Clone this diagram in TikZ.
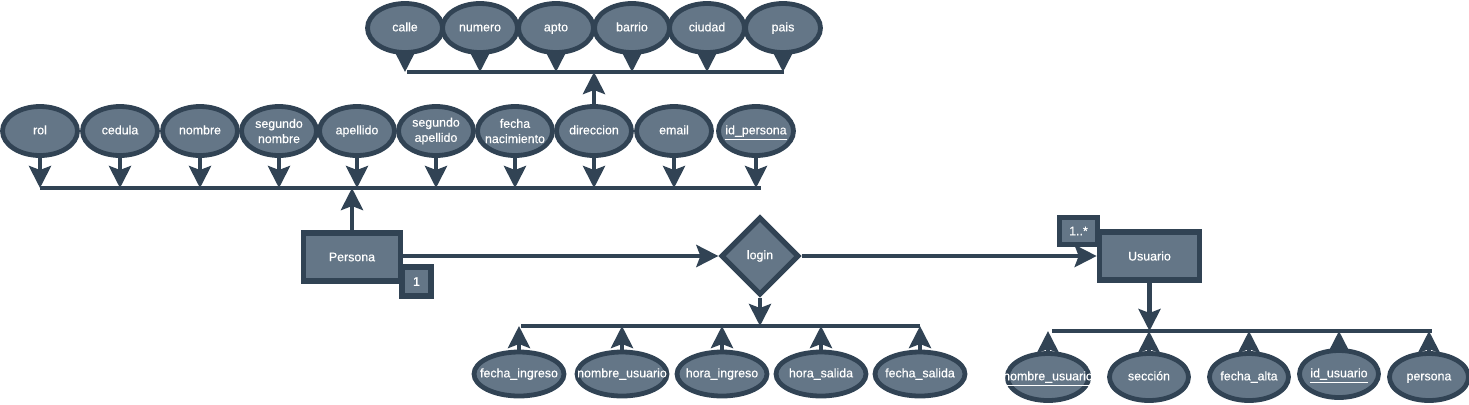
\documentclass[tikz,border=0pt]{standalone}
\usepackage{fontspec}
\setmainfont{Liberation Sans}[FakeBold=0.4]
\usetikzlibrary{arrows.meta,shapes.geometric}
\definecolor{erfill}{HTML}{647687}
\definecolor{erline}{HTML}{314354}

\begin{document}
\begin{tikzpicture}[x=0.5pt, y=-0.5pt, font=\fontsize{6.2}{7.6}\selectfont,
  attr/.style={ellipse, draw=erline, line width=2.4pt, fill=erfill, text=white, inner ysep=0pt, inner xsep=-8pt, align=center, minimum width=37.5pt, minimum height=24.5pt, text height=4.6pt, text depth=1.3pt},
  twoline/.style={text height={}, text depth={}},
  attrl/.style={attr, minimum width=45pt, minimum height=22pt},
  attru/.style={attr, minimum width=39.5pt, minimum height=23.5pt},
  entity/.style={rectangle, draw=erline, line width=2.8pt, fill=erfill, text=white, minimum width=48.5pt, minimum height=24pt},
  rel/.style={diamond, draw=erline, line width=2.6pt, fill=erfill, text=white, inner sep=0pt, minimum width=39pt, minimum height=39pt},
  card/.style={rectangle, draw=erline, line width=2.6pt, fill=erfill, text=white, inner sep=0pt, minimum size=14.5pt},
  link/.style={draw=erline, line width=2.2pt, -{Stealth[length=11pt,width=11pt,inset=2pt]}},
  bus/.style={draw=erline, line width=2.2pt}]
	\useasboundingbox (0,0) rectangle (1469,404);
	% direccion
	\node[attr] (calle) at (405,28) {calle};
	\node[attr] (numero) at (480,28) {numero};
	\node[attr] (apto) at (556,28) {apto};
	\node[attr] (barrio) at (632,28) {barrio};
	\node[attr] (ciudad) at (707,28) {ciudad};
	\node[attr] (pais) at (783,28) {pais};
	\coordinate (dirL) at (407,72);
	\coordinate (dirR) at (784,72);
	\draw[bus] (dirL) -- (dirR);
	\foreach \n in {calle,numero,apto,barrio,ciudad,pais}
	  \draw[link] (\n.south) -- (\n.south |- dirL);
	% persona
	\node[attr] (rol) at (40,131) {rol};
	\node[attr] (cedula) at (120,131) {cedula};
	\node[attr] (nombre) at (200,131) {nombre};
	\node[attr, twoline] (snombre) at (279,131) {segundo\\nombre};
	\node[attr] (apellido) at (357,131) {apellido};
	\node[attr, twoline] (sapellido) at (436,131) {segundo\\apellido};
	\node[attr, twoline] (fnac) at (515,131) {fecha\\nacimiento};
	\node[attr] (direccion) at (594,131) {direccion};
	\node[attr] (email) at (674,131) {email};
	\node[attr] (idpersona) at (756,131) {\underline{id\_persona}};
	\coordinate (perL) at (40,188);
	\coordinate (perR) at (761,188);
	\draw[bus] (perL) -- (perR);
	\foreach \n in {rol,cedula,nombre,snombre,apellido,sapellido,fnac,direccion,email,idpersona}
	  \draw[link] (\n.south) -- (\n.south |- perL);
	\draw[link] (direccion.north) -- (direccion.north |- dirL);
	\node[entity] (persona) at (352,257) {Persona};
	\node[card] (cpersona) at (416.5,281.5) {1};
	\draw[link] (persona.north) -- (persona.north |- perL);
	% login
	\node[rel] (login) at (760,256) {login};
	\node[entity, minimum width=50pt] (usuario) at (1149.5,256) {Usuario};
	\node[card, minimum width=19pt, minimum height=13.5pt] (cusuario) at (1078.5,231) {1..*};
	\draw[link] (persona.east |- login) -- (login.west);
	\draw[link] (login.east) -- (usuario.west);
	\node[attrl] (fingreso) at (519,374) {fecha\_ingreso};
	\node[attrl] (nusuario) at (622,374) {nombre\_usuario};
	\node[attrl] (hingreso) at (722,374) {hora\_ingreso};
	\node[attrl] (hsalida) at (821,374) {hora\_salida};
	\node[attrl] (fsalida) at (920,374) {fecha\_salida};
	\coordinate (logL) at (521,326);
	\coordinate (logR) at (920,326);
	\draw[bus] (logL) -- (logR);
	\draw[link] (login.south) -- (login.south |- logL);
	\foreach \n in {fingreso,nusuario,hingreso,hsalida,fsalida}
	  \draw[link] (\n.north) -- (\n.north |- logL);
	% usuario
	\node[attru] (unombre) at (1048,377) {\underline{nombre\_usuario}};
	\node[attru] (seccion) at (1149,377) {sección};
	\node[attru] (falta) at (1249,377) {fecha\_alta};
	\node[attru] (idusuario) at (1339,374) {\underline{id\_usuario}};
	\node[attru] (upersona) at (1429,377) {persona};
	\coordinate (usuL) at (1052,331);
	\coordinate (usuR) at (1432,331);
	\draw[bus] (usuL) -- (usuR);
	\draw[link] (usuario.south) -- (usuario.south |- usuL);
	\foreach \n in {unombre,seccion,falta,idusuario,upersona}
	  \draw[link] (\n.north) -- (\n.north |- usuL);
\end{tikzpicture}
\end{document}
